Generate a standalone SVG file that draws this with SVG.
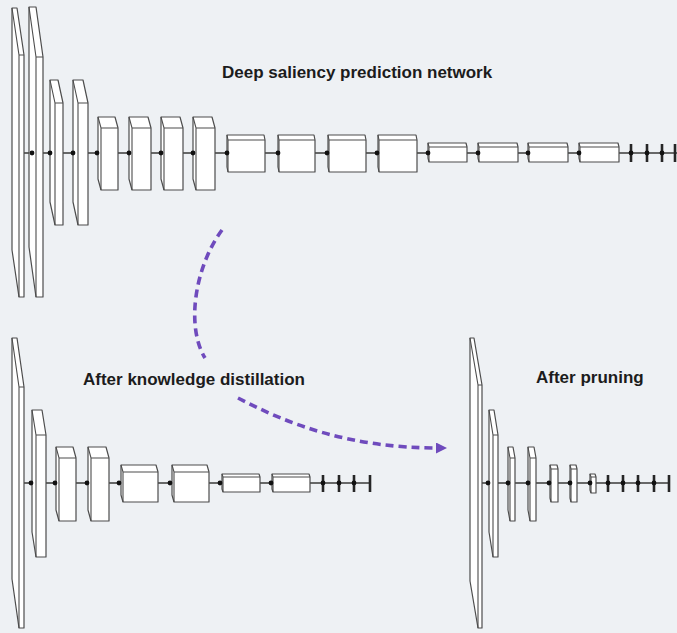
<svg xmlns="http://www.w3.org/2000/svg" width="677" height="633" viewBox="0 0 677 633">
  <defs>
    <style>
      .bg { fill: #eef1f4; }
      .box { fill: #ffffff; stroke: #4d4d4d; stroke-width: 1.2; stroke-linejoin: round; }
      .edge { fill: none; stroke: #4d4d4d; stroke-width: 1.1; }
      .spine { fill: none; stroke: #3a3a3a; stroke-width: 1.4; }
      .tick { stroke: #262626; stroke-width: 2.6; }
      .dot { fill: #111111; }
      .flow { fill: none; stroke: #6f4bbd; stroke-width: 3.6; stroke-dasharray: 8 5; }
      .label { font-family: "Liberation Sans", Arial, Helvetica, sans-serif; font-weight: bold; font-size: 17px; fill: #1c1c1c; }
    </style>
    <marker id="arrowhead" markerUnits="userSpaceOnUse" markerWidth="12" markerHeight="12" refX="3" refY="5.5" orient="auto">
      <path d="M0,0 L11,5.5 L0,11 Z" fill="#6f4bbd"/>
    </marker>
  </defs>

  <rect class="bg" x="0" y="0" width="677" height="633"/>

  <!-- backbones and the transfer arrow -->
  <g id="connectors">
    <path class="spine" d="M24 153 H677"/>
    <path class="spine" d="M24 483 H371"/>
    <path class="spine" d="M482 483 H670"/>
    <path class="flow" d="M222 230 C196 265 185 325 205 358"/>
    <path class="flow" d="M238 398 C290 425 350 448 439 448" marker-end="url(#arrowhead)"/>
  </g>

  <!-- full network -->
  <g id="full-network">
    <g id="full-l1"><polygon class="box" points="12,8 17,8 24,55 24,297 19,297 12,250"/><path class="edge" d="M12 8 L19 55 H24 M19 55 V297"/></g>
    <g id="full-l2"><polygon class="box" points="29,7 36,7 43,57 43,297 36,297 29,247"/><path class="edge" d="M29 7 L36 57 H43 M36 57 V297"/></g>
    <g id="full-l3"><polygon class="box" points="50,80 58,80 63,103 63,225 55,225 50,202"/><path class="edge" d="M50 80 L55 103 H63 M55 103 V225"/></g>
    <g id="full-l4"><polygon class="box" points="73,80 83,80 88,103 88,225 78,225 73,202"/><path class="edge" d="M73 80 L78 103 H88 M78 103 V225"/></g>
    <g id="full-l5"><polygon class="box" points="98,117 115,117 118,128 118,190 101,190 98,179"/><path class="edge" d="M98 117 L101 128 H118 M101 128 V190"/></g>
    <g id="full-l6"><polygon class="box" points="129,117 148,117 151,128 151,190 132,190 129,179"/><path class="edge" d="M129 117 L132 128 H151 M132 128 V190"/></g>
    <g id="full-l7"><polygon class="box" points="161,117 180,117 183,128 183,190 164,190 161,179"/><path class="edge" d="M161 117 L164 128 H183 M164 128 V190"/></g>
    <g id="full-l8"><polygon class="box" points="193,117 212,117 215,128 215,190 196,190 193,179"/><path class="edge" d="M193 117 L196 128 H215 M196 128 V190"/></g>
    <g id="full-l9"><polygon class="box" points="227,135 264,135 265,140 265,172 228,172 227,167"/><path class="edge" d="M227 135 L228 140 H265 M228 140 V172"/></g>
    <g id="full-l10"><polygon class="box" points="278,135 314,135 315,140 315,172 279,172 278,167"/><path class="edge" d="M278 135 L279 140 H315 M279 140 V172"/></g>
    <g id="full-l11"><polygon class="box" points="328,135 365,135 366,140 366,172 329,172 328,167"/><path class="edge" d="M328 135 L329 140 H366 M329 140 V172"/></g>
    <g id="full-l12"><polygon class="box" points="378,135 416,135 417,140 417,172 379,172 378,167"/><path class="edge" d="M378 135 L379 140 H417 M379 140 V172"/></g>
    <g id="full-l13"><polygon class="box" points="428,143 466,143 467,147 467,162 429,162 428,158"/><path class="edge" d="M428 143 L429 147 H467 M429 147 V162"/></g>
    <g id="full-l14"><polygon class="box" points="478,143 517,143 518,147 518,162 479,162 478,158"/><path class="edge" d="M478 143 L479 147 H518 M479 147 V162"/></g>
    <g id="full-l15"><polygon class="box" points="528,143 567,143 568,147 568,162 529,162 528,158"/><path class="edge" d="M528 143 L529 147 H568 M529 147 V162"/></g>
    <g id="full-l16"><polygon class="box" points="579,143 618,143 619,147 619,162 580,162 579,158"/><path class="edge" d="M579 143 L580 147 H619 M580 147 V162"/></g>
    <g id="full-l17"><line class="tick" x1="631" y1="144" x2="631" y2="162"/></g>
    <g id="full-l18"><line class="tick" x1="647" y1="144" x2="647" y2="162"/></g>
    <g id="full-l19"><line class="tick" x1="662" y1="144" x2="662" y2="162"/></g>
    <g id="full-l20"><line class="tick" x1="675" y1="144" x2="675" y2="162"/></g>
  </g>

  <!-- distilled network -->
  <g id="distilled-network">
    <g id="kd-l1"><polygon class="box" points="12,338 17,338 24,387 24,628 19,628 12,579"/><path class="edge" d="M12 338 L19 387 H24 M19 387 V628"/></g>
    <g id="kd-l2"><polygon class="box" points="32,410 42,410 46,435 46,557 36,557 32,532"/><path class="edge" d="M32 410 L36 435 H46 M36 435 V557"/></g>
    <g id="kd-l3"><polygon class="box" points="56,447 73,447 76,458 76,521 59,521 56,510"/><path class="edge" d="M56 447 L59 458 H76 M59 458 V521"/></g>
    <g id="kd-l4"><polygon class="box" points="88,447 106,447 109,458 109,521 91,521 88,510"/><path class="edge" d="M88 447 L91 458 H109 M91 458 V521"/></g>
    <g id="kd-l5"><polygon class="box" points="121,465 156,465 158,472 158,502 123,502 121,495"/><path class="edge" d="M121 465 L123 472 H158 M123 472 V502"/></g>
    <g id="kd-l6"><polygon class="box" points="172,465 207,465 209,472 209,502 174,502 172,495"/><path class="edge" d="M172 465 L174 472 H209 M174 472 V502"/></g>
    <g id="kd-l7"><polygon class="box" points="222,474 259,474 260,477 260,492 223,492 222,489"/><path class="edge" d="M222 474 L223 477 H260 M223 477 V492"/></g>
    <g id="kd-l8"><polygon class="box" points="272,474 309,474 310,477 310,492 273,492 272,489"/><path class="edge" d="M272 474 L273 477 H310 M273 477 V492"/></g>
    <g id="kd-l9"><line class="tick" x1="323" y1="475" x2="323" y2="492"/></g>
    <g id="kd-l10"><line class="tick" x1="339" y1="475" x2="339" y2="492"/></g>
    <g id="kd-l11"><line class="tick" x1="354" y1="475" x2="354" y2="492"/></g>
    <g id="kd-l12"><line class="tick" x1="370" y1="475" x2="370" y2="492"/></g>
  </g>

  <!-- pruned network -->
  <g id="pruned-network">
    <g id="pr-l1"><polygon class="box" points="470,338 474,338 482,385 482,628 478,628 470,581"/><path class="edge" d="M470 338 L478 385 H482 M478 385 V628"/></g>
    <g id="pr-l2"><polygon class="box" points="489,410 494,410 498,435 498,557 493,557 489,532"/><path class="edge" d="M489 410 L493 435 H498 M493 435 V557"/></g>
    <g id="pr-l3"><polygon class="box" points="508,447 513,447 515,458 515,521 510,521 508,510"/><path class="edge" d="M508 447 L510 458 H515 M510 458 V521"/></g>
    <g id="pr-l4"><polygon class="box" points="528,447 534,447 536,458 536,521 530,521 528,510"/><path class="edge" d="M528 447 L530 458 H536 M530 458 V521"/></g>
    <g id="pr-l5"><polygon class="box" points="550,465 557,465 558,469 558,502 551,502 550,498"/><path class="edge" d="M550 465 L551 469 H558 M551 469 V502"/></g>
    <g id="pr-l6"><polygon class="box" points="570,465 576,465 577,469 577,502 571,502 570,498"/><path class="edge" d="M570 465 L571 469 H577 M571 469 V502"/></g>
    <g id="pr-l7"><polygon class="box" points="590,474 595,474 596,477 596,493 591,493 590,490"/><path class="edge" d="M590 474 L591 477 H596 M591 477 V493"/></g>
    <g id="pr-l8"><line class="tick" x1="608" y1="475" x2="608" y2="492"/></g>
    <g id="pr-l9"><line class="tick" x1="623" y1="475" x2="623" y2="492"/></g>
    <g id="pr-l10"><line class="tick" x1="638" y1="475" x2="638" y2="492"/></g>
    <g id="pr-l11"><line class="tick" x1="654" y1="475" x2="654" y2="492"/></g>
    <g id="pr-l12"><line class="tick" x1="669" y1="475" x2="669" y2="492"/></g>
  </g>

  <!-- junction dots where the backbone enters each layer -->
  <g id="junctions" class="dot">
    <circle cx="32" cy="153" r="2.4"/><circle cx="50" cy="153" r="2.4"/><circle cx="73" cy="153" r="2.4"/>
    <circle cx="97" cy="153" r="2.4"/><circle cx="129" cy="153" r="2.4"/><circle cx="161" cy="153" r="2.4"/>
    <circle cx="193" cy="153" r="2.4"/><circle cx="227" cy="153" r="2.4"/><circle cx="278" cy="153" r="2.4"/>
    <circle cx="327" cy="153" r="2.4"/><circle cx="377" cy="153" r="2.4"/><circle cx="428" cy="153" r="2.4"/>
    <circle cx="478" cy="153" r="2.4"/><circle cx="528" cy="153" r="2.4"/><circle cx="579" cy="153" r="2.4"/>
    <circle cx="631" cy="153" r="2.4"/><circle cx="647" cy="153" r="2.4"/><circle cx="662" cy="153" r="2.4"/>

    <circle cx="31" cy="483" r="2.4"/><circle cx="55" cy="483" r="2.4"/><circle cx="87" cy="483" r="2.4"/>
    <circle cx="119" cy="483" r="2.4"/><circle cx="170" cy="483" r="2.4"/><circle cx="220" cy="483" r="2.4"/>
    <circle cx="271" cy="483" r="2.4"/><circle cx="323" cy="483" r="2.4"/><circle cx="339" cy="483" r="2.4"/>
    <circle cx="354" cy="483" r="2.4"/>

    <circle cx="488" cy="483" r="2.4"/><circle cx="508" cy="483" r="2.4"/><circle cx="528" cy="483" r="2.4"/>
    <circle cx="549" cy="483" r="2.4"/><circle cx="570" cy="483" r="2.4"/><circle cx="590" cy="483" r="2.4"/>
    <circle cx="608" cy="483" r="2.4"/><circle cx="623" cy="483" r="2.4"/><circle cx="638" cy="483" r="2.4"/>
    <circle cx="654" cy="483" r="2.4"/>
  </g>

  <!-- titles -->
  <g id="titles">
    <text class="label" x="222" y="78">Deep saliency prediction network</text>
    <text class="label" x="83" y="385">After knowledge distillation</text>
    <text class="label" x="536" y="383">After pruning</text>
  </g>
</svg>
